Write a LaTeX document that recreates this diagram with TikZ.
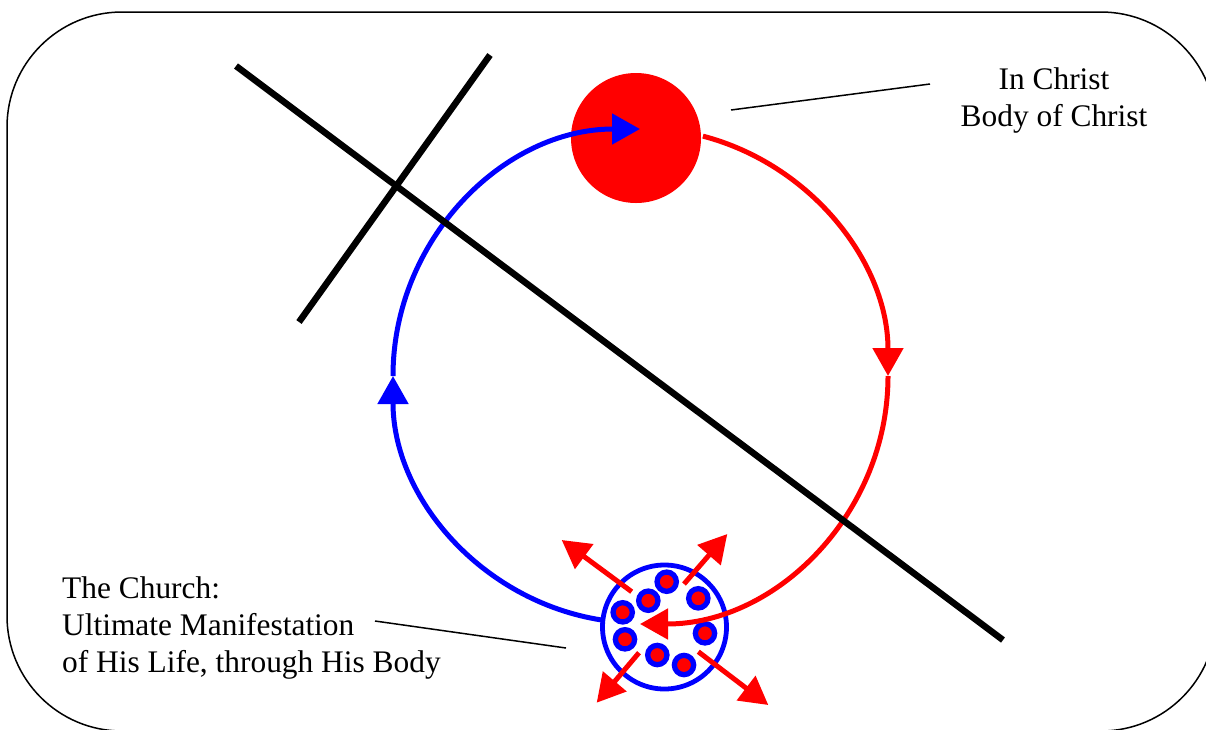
\documentclass[tikz,border=0pt]{standalone}
\usepackage{fontspec}
\setmainfont{Liberation Serif}
\usetikzlibrary{arrows.meta,calc}
\begin{document}
\begin{tikzpicture}[x=1pt,y=-1pt,
  blk/.style={line width=6.5pt, black},
  ringline/.style={line width=5pt},
  tipped/.style={-{Triangle[length=28pt,width=30pt]}},
  dot/.style={circle, draw=blue, fill=red, line width=5.3pt, minimum size=19.3pt, inner sep=0pt},
  lbl/.style={font=\fontsize{31.4}{37}\selectfont, inner sep=0pt},
  pointer/.style={line width=1.5pt, black},
  burst/.style={red, line width=5pt, tipped}]
\clip (0,0) rectangle (1206,729);
\useasboundingbox (0,0) rectangle (1206,729);
% frame
\draw[line width=1.5pt, rounded corners=115pt] (7,12) rectangle (1216,731);
% main nodes
\coordinate (ring) at (640,376);
\node[circle, fill=red, minimum size=130pt, inner sep=0pt] (christ) at (636,138) {};
\node[circle, draw=blue, line width=4.8pt, minimum size=124pt, inner sep=0pt] (church) at (664.5,627) {};
% members
\node[dot] (d1) at (666.7,581.7) {};
\node[dot] (d2) at (648.3,600.7) {};
\node[dot] (d3) at (622.7,612.3) {};
\node[dot] (d4) at (698.3,598.3) {};
\node[dot] (d5) at (705,633.3) {};
\node[dot] (d6) at (625,639.3) {};
\node[dot] (d7) at (657.3,655) {};
\node[dot] (d8) at (684,665) {};
% cycle
\draw[ringline, blue, tipped] ($(ring)+(99:247)$) arc[start angle=99, end angle=180, radius=247];
\draw[ringline, blue, tipped] ($(ring)+(180:247)$) arc[start angle=180, end angle=270, radius=247];
\draw[ringline, red, tipped] ($(ring)+(-75.3:248)$) arc[start angle=-75.3, end angle=0, radius=248];
\draw[ringline, red, tipped] ($(ring)+(0:248)$) arc[start angle=0, end angle=90, radius=248];
% outward arrows
\coordinate (b1s) at (631.7,591.7); \coordinate (b1e) at (561.7,540);
\coordinate (b2s) at (684,584);     \coordinate (b2e) at (727.3,534);
\coordinate (b3s) at (639,652.7);   \coordinate (b3e) at (596.7,702.7);
\coordinate (b4s) at (698.3,651.7); \coordinate (b4e) at (768.3,705);
\draw[burst] (b1s) -- (b1e);
\draw[burst] (b2s) -- (b2e);
\draw[burst] (b3s) -- (b3e);
\draw[burst] (b4s) -- (b4e);
% black lines
\draw[blk] (236,66) -- (1003,640);
\draw[blk] (490,55) -- (299,322);
% labels
\node[lbl, align=center] (lblchrist) at (1054,100) {In Christ\\Body of Christ};
\node[lbl, align=left, anchor=west] (lblchurch) at (62,628) {The Church:\\Ultimate Manifestation\\of His Life, through His Body};
\coordinate (p1a) at (731,110); \coordinate (p1b) at (930,84);
\coordinate (p2a) at (375,621); \coordinate (p2b) at (566,648);
\draw[pointer] (p1a) -- (p1b);
\draw[pointer] (p2a) -- (p2b);
\end{tikzpicture}
\end{document}
